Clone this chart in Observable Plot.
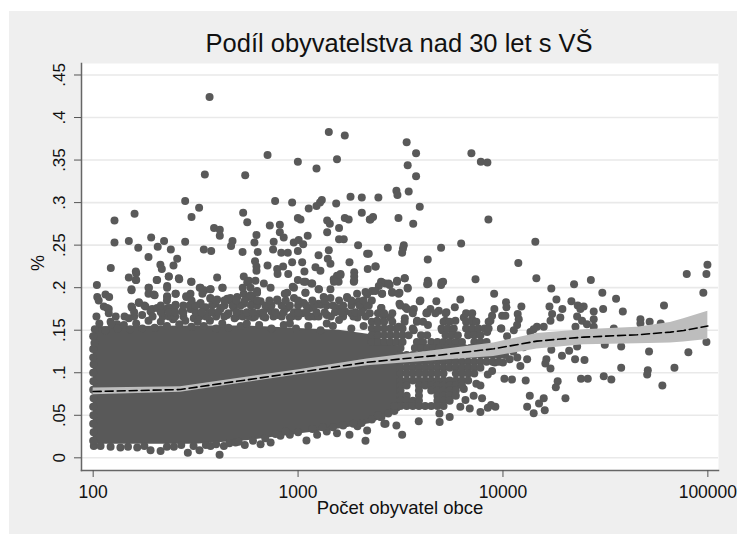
<!DOCTYPE html>
<html><head><meta charset="utf-8">
<script src="https://cdn.jsdelivr.net/npm/d3@7"></script>
<script src="https://cdn.jsdelivr.net/npm/@observablehq/plot@0.6"></script>
<style>
html,body{margin:0;padding:0;background:#fff;}
#panel{position:absolute;left:9px;top:11px;width:728px;height:523px;background:#efefef;overflow:hidden;}
svg{display:block;background:transparent !important;}
</style></head><body><div id="panel"></div>
<script>
// log10(population), share
const titleText = "Podíl obyvatelstva nad 30 let s VŠ";
const xLabel = "Počet obyvatel obce";
const yLabel = "%";
const xTicks = [100,1000,10000,100000];
const yTicks = [0,.05,.1,.15,.2,.25,.3,.35,.4,.45];

const pointsTop = [[2.568,.424],[3.15,.383],[3.228,.379],[2.851,.356],[3.19,.351],[2.999,.348],[3.09,.34],[2.545,.333],[2.742,.332],
[3.53,.371],[3.576,.358],[3.535,.344],[3.576,.331],[3.846,.358],[3.892,.348],[3.924,.347],[3.48,.314],[3.485,.309],[3.54,.313],[3.594,.295],[3.49,.282],[3.562,.275],[3.929,.28],
[2.449,.302],[2.517,.294],[2.48,.283],[2.104,.279],[2.202,.287],[2.888,.302],[2.971,.3],[3.116,.303],[3.107,.3],[3.09,.296],[3.052,.293],[3.186,.299],[3.256,.307],[3.311,.306],[3.392,.306],[3.311,.288],[3.35,.28],[3.353,.28],[3.366,.283],[3.228,.282],[3.247,.28],[2.732,.288],[2.752,.277],[2.862,.273],[2.911,.274],[2.911,.265],[2.93,.259],[2.999,.282],[3.012,.28],[3.142,.279],[3.155,.275],[3.2,.27],[3.142,.265],[3.2,.257],[3.223,.257],[2.59,.27],[2.618,.268],[2.618,.261],[2.797,.262],[2.787,.253],[2.68,.255],[2.673,.249],[2.729,.242],[2.803,.242],[2.54,.245],[2.576,.243],[2.449,.254],[2.283,.259],[2.104,.253],[2.174,.255],[2.22,.247],[2.315,.248],[2.346,.255],[2.379,.245],[2.27,.236],[2.41,.234],[2.328,.227],[2.335,.222],[2.392,.226],[2.086,.223],[2.208,.219],[2.881,.254],[2.878,.245],[2.918,.241],[2.95,.241],[2.979,.253],[3.003,.256],[3.025,.251],[3.047,.261],[2.999,.243],[3.15,.244],[3.10,.238],[3.293,.25],[3.337,.24],[3.145,.234],[3.158,.228],[2.79,.231],[2.851,.226],[2.971,.23],[3.02,.23],[3.251,.23],[3.438,.247],[3.516,.25],[3.508,.241],[3.512,.246],[3.345,.24],[3.633,.233],[3.796,.252],[3.698,.247],[4.158,.254],[4.075,.229],
[4.163,.211],[3.866,.21],[3.633,.208],[3.636,.205],[3.70,.206],[3.708,.207],[3.698,.203],[4.897,.216],[4.993,.216],[4.998,.227],[2.927,.225],[2.898,.222],[2.797,.225],[2.952,.216],[2.90,.216],[3.031,.219],[3.085,.224],[3.109,.22],[3.34,.222],[3.379,.225],[3.274,.218],[3.274,.213],[3.274,.208],[3.207,.216],[3.19,.214],[3.174,.21],[3.198,.207],[2.999,.209],[3.036,.207],[3.065,.205],[2.797,.22],[2.174,.212],[2.21,.217],[2.208,.209],[2.21,.209],[2.31,.209],[2.369,.213],[2.418,.211],[2.48,.207],[2.605,.212],[2.42,.21],[2.735,.213],[2.76,.208],[2.792,.208],[2.752,.206],[3.405,.207],[3.426,.205],[3.447,.203],[3.483,.207],[3.52,.211],[3.41,.206],[3.442,.205],[3.483,.208],[3.63,.204]];

const pointsMid = [[2.361,.202],[2.27,.2],[2.187,.197],[2.632,.2],[2.018,.203],[2.02,.189],[2.027,.185],[2.06,.192],[2.078,.189],[2.27,.193],[2.30,.191],[2.361,.189],[2.403,.193],[2.455,.189],[2.475,.193],[2.52,.2],[2.543,.197],[2.572,.198],[2.533,.193],[2.572,.187],[2.052,.178],[2.076,.175],[2.187,.178],[2.223,.183],[2.25,.179],[2.288,.175],[2.364,.176],[2.402,.179],[2.524,.18],[2.548,.177],[2.597,.181],[2.621,.175],[2.67,.185],[2.703,.189],[2.735,.193],[2.76,.189],[2.776,.181],[2.735,.181],[2.686,.179],[2.654,.187],[2.73,.2],[2.768,.191],[2.80,.196],
[2.016,.166],[2.008,.151],[2.0,.143],[2.0,.128],[2.068,.176],[2.076,.17],[2.153,.166],[2.174,.164],[2.085,.16],[2.117,.157],[2.19,.176],[2.187,.198],[2.223,.182],[2.255,.178],[2.239,.168],[2.28,.172],[2.312,.176],[2.345,.174],[2.377,.176],[2.402,.18],[2.434,.172],[2.475,.175],[2.491,.164],[2.524,.182],[2.54,.176],[2.572,.188],[2.605,.186],[2.565,.17],[2.622,.176],[2.67,.188],[2.687,.176],[2.776,.19],[2.654,.168],[2.752,.168],[2.849,.176],[2.898,.186],[2.947,.176],[2.98,.188],[3.028,.182],[3.061,.176],[3.11,.18],[3.158,.188],[3.19,.176],[3.24,.188],[3.297,.184],[3.337,.192],
[2.272,.2],[2.312,.209],[2.361,.2],[2.402,.193],[2.361,.19],[2.296,.192],[2.369,.213],[2.478,.207],[2.63,.2],[2.524,.2],[2.573,.198],[2.454,.19],[2.768,.2],[2.833,.205],[2.866,.2],[2.8,.194],[2.817,.184],[2.947,.194],[2.98,.2],[3.028,.207],[3.069,.205],[3.036,.194],[3.102,.198],[3.158,.198],[3.175,.207],[3.207,.215],[3.272,.207],[2.974,.201],[3.10,.198],[3.036,.194],[2.935,.193],[3.535,.2],[3.394,.202],[3.361,.196],[3.329,.195],[3.288,.193],[3.239,.189],[3.41,.193],[3.459,.194],[3.495,.194],[3.594,.184],[3.495,.181],[3.524,.177],[3.56,.173],[3.405,.176],[3.291,.183],[3.345,.179],[3.207,.173],[2.898,.185],[3.012,.183],[3.10,.181],[3.125,.189],[3.63,.171]];

const pointsRight = [[4.236,.199],[4.347,.204],[4.429,.209],[4.485,.194],[4.552,.187],[4.585,.172],[4.489,.175],[4.443,.172],[4.786,.179],[4.671,.163],[4.716,.16],[4.77,.158],[4.978,.194],[4.261,.186],[4.334,.184],[4.365,.179],[4.394,.178],[4.378,.175],[4.29,.175],[4.227,.178],[4.24,.169],[4.28,.165],[4.232,.161],[4.362,.166],[4.386,.161],[4.41,.157],[4.443,.163],[4.443,.154],[4.354,.154],[4.541,.152],[4.671,.158],[4.09,.178],[4.015,.183],[4.017,.177],[3.996,.167],[4.012,.167],[4.072,.169],[4.077,.163],[4.069,.156],[4.053,.15],[3.992,.152],[4.02,.143],[3.957,.193],[3.958,.175],[3.947,.167],[3.939,.161],[4.134,.148],[4.166,.154],[4.199,.154],[4.15,.151],[3.792,.186],[3.765,.177],[3.675,.184],[3.597,.185],[3.646,.175],[3.687,.173],[3.565,.175],[3.499,.179],[3.532,.175],[3.407,.176],[3.418,.167],[3.459,.195],[3.491,.193],[3.535,.199],[3.521,.211],[3.377,.196],[3.41,.193],[3.377,.225],[3.521,.164],[3.581,.161],[3.626,.17],[3.634,.156],[3.724,.171],[3.719,.161],[3.768,.161],[3.809,.165],[3.849,.163],[3.703,.15],[3.752,.148],[3.833,.15],[3.923,.148],[3.874,.146],[3.675,.134],[3.451,.165],[3.491,.154],[3.565,.15],[3.386,.161],
[4.993,.136],[4.905,.124],[4.713,.125],[4.577,.106],[4.837,.106],[4.707,.103],[4.704,.098],[4.778,.085],[4.577,.131],[4.497,.133],[4.352,.116],[4.398,.115],[4.492,.096],[4.529,.092],[4.381,.093],[4.414,.093],[4.305,.07],[4.267,.09],[4.258,.083],[4.212,.116],[4.207,.111],[4.232,.105],[4.085,.108],[4.118,.116],[4.111,.091],[4.007,.093],[4.044,.092],[4.131,.073],[4.118,.06],[4.15,.0525],[4.176,.064],[4.199,.07],[4.204,.056],[4.236,.127],[4.288,.12],[4.323,.126],[4.362,.131],[4.419,.14],[4.0,.112],[4.033,.116],[3.96,.112],[4.07,.118],[4.05,.125],[4.1,.13]];

const pointsBottom = [[2.003,.014],[2.036,.014],[2.085,.013],[2.133,.012],[2.17,.013],[2.215,.012],[2.25,.014],[2.28,.009],[2.329,.008],[2.36,.013],[2.394,.013],[2.43,.015],[2.462,.006],[2.49,.014],[2.519,.009],[2.55,.015],[2.573,.014],[2.617,.0036],[2.638,.014],[2.665,.017],[2.695,.018],[2.74,.015],[2.78,.02],[2.817,.016],[2.866,.018],[2.914,.026],[2.96,.027],[3.0,.03],[3.041,.0205],[3.093,.027],[3.14,.031],[3.19,.029],[3.251,.027],[3.29,.037],[3.329,.02],[3.337,.032],[3.407,.048],[3.427,.04],[3.48,.038],[3.508,.027],[3.589,.043],[3.691,.042],[3.69,.052],[3.74,.048],[3.792,.06],[3.838,.058],[3.89,.054],[3.926,.059],[3.963,.06],[3.942,.062],[3.857,.073],[3.898,.07],[3.817,.068],[3.926,.098],[3.947,.102],[3.87,.087],[3.89,.085],[3.809,.081],[3.421,.04],[3.402,.048],
[2.0,.02],[2.002,.03],[2.0,.04],[2.001,.05],[2.0,.06],[2.002,.07],[2.0,.08],[2.001,.09],[2.0,.1],[2.002,.11],[2.0,.118],[2.006,.135],
[2.6,.016],[2.71,.019],[2.84,.023],[2.89,.028],[2.94,.031],[3.07,.034],[3.12,.036],[3.17,.036],[3.22,.038],[3.27,.04],[3.31,.041],[3.36,.045],[3.39,.05],[3.44,.052],[3.47,.055]];

const edgeTop = [[2.03,.158],[2.06,.15],[2.09,.157],[2.12,.152],[2.15,.156],[2.18,.151],[2.21,.158],[2.24,.152],[2.27,.161],[2.3,.153],[2.33,.16],[2.36,.155],[2.39,.163],[2.42,.157],[2.45,.161],[2.48,.154],[2.51,.16],[2.54,.155],[2.57,.161],[2.6,.152],[2.63,.158],[2.66,.153],[2.69,.164],[2.72,.155],[2.75,.158],[2.78,.165],[2.81,.156],[2.84,.165],[2.87,.152],[2.9,.168],[2.93,.156],[2.96,.165],[2.99,.152],[3.02,.17],[3.05,.155],[3.08,.166],[3.11,.15],[3.14,.168],[3.17,.155],[3.2,.162],[3.23,.172],[3.26,.152],[3.29,.165],[3.32,.155],[3.35,.17],[2.66,.17],[2.72,.17],[2.81,.17],[2.87,.172],[2.96,.158],[3.06,.166],[3.14,.158],[3.26,.17],[3.32,.176],[3.38,.15]];

const ridgeS = [.166,.171,.179,.185];
const ridgeL = [
 [2.11,2.2,2.29,2.34,2.37,2.4,2.44,2.52,2.55,2.6,2.64,2.7,2.73,2.76,2.79,2.83,2.88,2.92,2.97,3.0,3.05,3.1,3.16,3.22,3.27,3.33],
 [2.2,2.33,2.37,2.4,2.44,2.5,2.53,2.58,2.61,2.7,2.75,2.78,2.83,2.89,2.93,2.98,3.0,3.04,3.09,3.13,3.18,3.21,3.28,3.31],
 [2.33,2.44,2.47,2.5,2.58,2.64,2.68,2.72,2.77,2.8,2.84,2.87,2.92,2.96,3.0,3.04,3.08,3.14,3.17,3.22,3.26,3.3,3.34],
 [2.36,2.48,2.6,2.64,2.7,2.74,2.8,2.86,2.9,2.94,3.0,3.07,3.13,3.2,3.26,3.32,3.36]];

const fillerS = [.17,.16,.152,.144,.136,.129,.121,.113,.106,.099,.091,.085,.079,.073,.067,.061];
const fillerL = [
 [3.39,3.42,3.46,3.56,3.63,3.67,3.72,3.82,3.85],
 [3.36,3.39,3.42,3.46,3.52,3.58,3.61,3.71,3.74,3.82,3.85,3.87,3.93],
 [3.36,3.39,3.42,3.45,3.48,3.51,3.56,3.7,3.73,3.76,3.82,3.85,3.88,3.91,3.93,3.99],
 [3.36,3.39,3.42,3.45,3.48,3.51,3.54,3.6,3.63,3.72,3.75,3.78,3.83,3.86,3.89],
 [3.36,3.39,3.42,3.45,3.48,3.51,3.58,3.61,3.65,3.68,3.71,3.74,3.77,3.8,3.86,3.89,3.92],
 [3.5,3.57,3.6,3.63,3.66,3.69,3.72,3.75,3.78,3.81,3.84,3.87,3.9,3.93,3.96],
 [3.5,3.53,3.56,3.59,3.62,3.65,3.68,3.71,3.74,3.77,3.8,3.83,3.86,3.89,3.92,3.95,3.98,4.01],
 [3.5,3.53,3.56,3.59,3.62,3.65,3.68,3.71,3.74,3.77,3.8,3.83,3.86,3.89,3.92,3.95,3.98],
 [3.5,3.53,3.56,3.59,3.62,3.65,3.68,3.71,3.74,3.77,3.8,3.83,3.86,3.89],
 [3.5,3.53,3.56,3.59,3.62,3.65,3.68,3.71,3.77,3.8,3.83,3.86],
 [3.5,3.53,3.56,3.59,3.62,3.65,3.68,3.71,3.74,3.77,3.8,3.83],
 [3.5,3.53,3.59,3.62,3.65,3.68,3.71,3.74,3.77,3.8],
 [3.5,3.59,3.65,3.68,3.71,3.74,3.77],
 [3.5,3.53,3.59,3.68,3.71,3.74,3.77],
 [3.5,3.53,3.56,3.59,3.68,3.71,3.74],
 [3.47,3.5,3.53,3.56,3.59,3.62,3.65,3.68,3.71]];

const coreL    = [2,2.5,2.75,3,3.2,3.35,3.5];
const coreLow  = [.016,.016,.02,.028,.034,.04,.055];
const coreHigh = [.154,.155,.155,.152,.15,.145,.13];

const fitL     = [2,2.426,3.004,3.337,3.678,3.955,4.166,4.394,4.655,4.817,4.882,5];
const fitShare = [.0779,.0803,.1006,.1123,.1204,.1282,.1372,.1419,.1446,.1478,.1497,.155];
const ciLow    = [.074,.077,.0976,.1083,.1144,.119,.128,.133,.134,.135,.136,.139];
const ciHigh   = [.082,.0835,.1036,.1163,.1264,.135,.146,.1505,.1536,.159,.1634,.1724];

const rowPoints = (S,L) => S.flatMap((s,i)=>L[i].map(l=>[l,s]));
const allPoints = [...pointsTop,...pointsMid,...pointsRight,...pointsBottom,...edgeTop,...rowPoints(ridgeS,ridgeL),...rowPoints(fillerS,fillerL)];
const core = coreL.map((l,i)=>({x:10**l,y1:coreLow[i],y2:coreHigh[i]}));
const fit = fitL.map((l,i)=>({x:10**l,y:fitShare[i],lo:ciLow[i],hi:ciHigh[i]}));
const dotColor = "#595959";
const fmtY = d => d===0 ? "0" : String(d).replace(/^0/,"");

const chart = Plot.plot({
  width:728,height:523,
  marginLeft:72,marginRight:19,marginTop:52,marginBottom:64,
  style:{fontFamily:"'Liberation Sans',Arial,sans-serif",background:"transparent"},
  x:{type:"log",domain:[10**1.943,10**5.052],axis:null},
  y:{domain:[-.0149,.4635],axis:null},
  marks:[
    Plot.frame({fill:"#fff",stroke:null}),
    Plot.gridY(yTicks,{stroke:"#e9e9e9",strokeOpacity:1,strokeWidth:1.6}),
    Plot.areaY(core,{x:"x",y1:"y1",y2:"y2",fill:dotColor}),
    Plot.dot(allPoints,{x:d=>10**d[0],y:d=>d[1],r:4,fill:dotColor,stroke:null}),
    Plot.areaY(fit,{x:"x",y1:"lo",y2:"hi",fill:"#bdbdbd"}),
    Plot.line(fit,{x:"x",y:"y",stroke:"#000",strokeWidth:1.6,strokeDasharray:"8,4"}),
    Plot.frame({anchor:"left",stroke:"#666",strokeWidth:1.5}),
    Plot.frame({anchor:"bottom",stroke:"#666",strokeWidth:1.5}),
    Plot.axisX(xTicks,{anchor:"bottom",tickSize:7,tickPadding:8,stroke:"#555",fill:"#111",fontSize:17.5,tickFormat:d=>String(d),label:null}),
    Plot.axisY(yTicks,{anchor:"left",tickSize:7,tickPadding:10,stroke:"#555",fill:"#111",fontSize:17,tickFormat:fmtY,tickRotate:-90,textAnchor:"middle",label:null}),
    Plot.text([titleText],{frameAnchor:"top",dy:-12,dx:-1,fontSize:25.5,fill:"#111",lineAnchor:"bottom",textAnchor:"middle"}),
    Plot.text([xLabel],{frameAnchor:"bottom",dy:43,dx:0,fontSize:18.5,fill:"#111"}),
    Plot.text([yLabel],{frameAnchor:"left",dx:-43,dy:4,fontSize:18,fill:"#111",rotate:-90})
  ]
});
document.getElementById("panel").appendChild(chart);
</script></body></html>
